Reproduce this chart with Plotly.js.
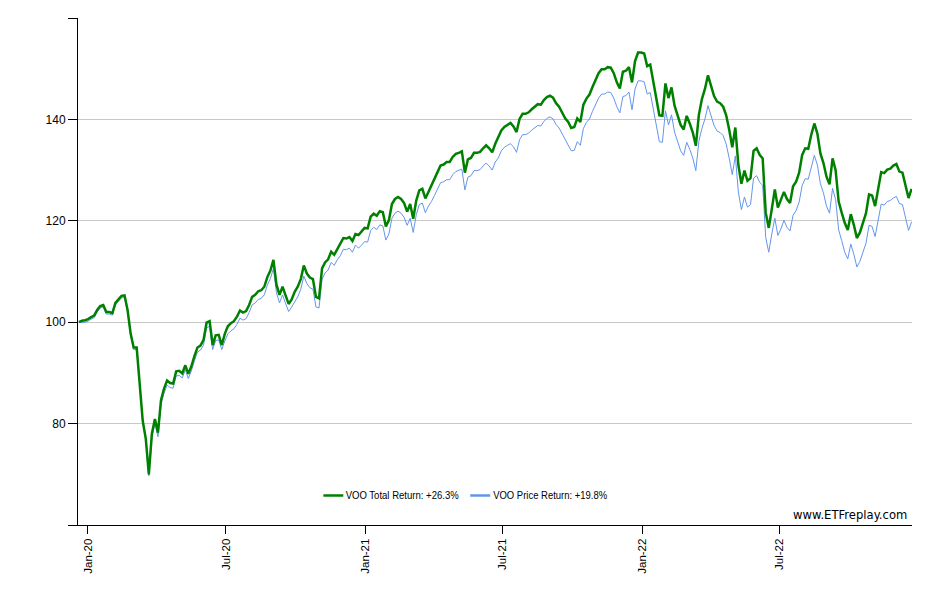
<!DOCTYPE html>
<html>
<head>
<meta charset="utf-8">
<script src="https://cdn.plot.ly/plotly-3.0.1.min.js"></script>
<style>html,body{margin:0;padding:0;background:#fff;}#chart{width:940px;height:600px;}</style>
</head>
<body>
<div id="chart"></div>
<script>
// Series sampled every ~4 calendar days starting 2019-12-20
var startDate = '2019-12-20 08:00';
var totalReturn = [
100.0,100.3,100.4,100.6,101.0,101.3,102.4,103.2,103.4,102.0,
102.0,101.8,103.8,104.4,105.2,105.3,102.4,97.8,95.0,95.0,
87.8,80.5,77.0,70.0,78.0,80.9,78.2,84.6,86.9,88.5,
88.0,87.9,90.3,90.4,89.9,91.5,89.8,91.3,93.3,95.0,
95.4,96.5,99.9,100.2,95.5,97.4,97.5,95.5,97.7,99.2,
99.8,100.2,101.1,102.3,101.9,102.2,103.4,105.0,105.4,106.1,
106.3,107.0,108.9,110.2,112.3,107.4,105.4,107.0,105.3,103.6,
104.5,106.0,107.0,108.5,111.2,109.6,108.8,108.5,105.0,104.7,
110.6,111.8,112.4,113.9,113.3,114.4,115.2,116.6,116.5,116.8,
116.0,117.4,117.2,117.8,118.6,118.5,120.8,121.4,121.0,121.9,
121.7,118.9,120.1,123.3,124.3,124.7,124.3,123.5,121.8,123.3,
120.4,124.0,126.0,126.3,124.4,125.7,127.1,128.4,129.6,130.9,
131.1,131.6,131.6,132.6,133.2,133.4,133.7,129.5,132.1,132.4,
133.4,133.4,133.6,134.3,134.9,134.3,133.5,135.2,136.4,137.8,
138.5,138.9,139.3,138.6,137.5,140.1,141.1,141.1,141.4,142.0,
142.6,143.0,142.9,143.8,144.4,144.7,144.3,143.2,142.5,141.3,
140.2,139.5,138.3,138.5,140.2,139.5,142.9,144.1,144.9,146.4,
147.8,149.1,149.9,149.9,150.3,150.2,149.1,147.3,146.1,149.4,
149.6,150.3,147.3,151.5,153.2,153.2,153.0,150.5,150.8,147.6,
144.2,140.8,140.7,147.1,144.2,146.3,142.7,140.7,138.9,138.0,
140.7,139.2,137.4,134.8,140.9,144.0,146.0,148.7,146.6,144.6,
143.5,143.2,142.5,140.8,137.9,134.5,138.4,131.0,127.3,129.9,
127.9,128.4,133.8,134.3,133.0,132.3,121.6,118.6,122.3,126.2,
122.6,124.0,125.7,124.3,123.5,126.8,127.7,129.5,133.0,134.3,
134.2,137.0,139.2,137.2,133.3,131.4,128.7,127.2,132.3,130.0,
123.8,121.6,119.6,118.2,121.3,119.2,116.6,117.7,119.4,121.5,
125.2,125.0,122.9,126.4,129.6,129.4,130.1,130.3,130.9,131.2,
129.7,129.5,126.9,124.5,126.3
];
var priceReturn = [
100.0,99.9,100.0,100.2,100.6,100.9,102.0,102.8,103.0,101.6,
101.6,101.4,103.4,104.0,104.8,104.9,102.0,97.4,94.6,94.6,
87.5,80.2,76.7,69.7,77.2,80.1,77.4,83.8,86.0,87.6,
87.1,87.0,89.4,89.5,89.0,90.6,88.9,90.4,92.4,94.1,
94.5,95.5,98.9,99.2,94.6,96.4,96.5,94.6,96.3,97.7,
98.3,98.7,99.6,100.8,100.4,100.7,101.9,103.4,103.8,104.5,
104.7,105.4,107.3,108.6,110.6,105.8,103.8,105.4,103.7,102.1,
103.0,104.0,105.0,106.5,109.1,107.6,106.8,106.5,103.0,102.8,
108.5,109.7,110.3,111.8,111.2,112.3,113.1,114.4,114.3,114.6,
113.8,115.2,114.6,115.2,115.9,115.8,118.1,118.7,118.3,119.2,
119.0,116.2,117.4,120.5,121.5,121.9,121.5,120.7,119.1,120.5,
117.7,121.2,123.2,123.5,121.6,122.9,123.8,125.0,126.2,127.5,
127.7,128.1,128.1,129.1,129.7,129.9,130.2,126.1,128.6,128.9,
129.9,129.9,130.1,130.8,131.4,130.8,130.0,131.6,132.4,133.8,
134.5,134.9,135.2,134.6,133.5,136.0,137.0,137.0,137.3,137.9,
138.4,138.8,138.7,139.6,140.2,140.5,140.1,139.0,138.3,137.2,
136.1,134.9,133.8,133.9,135.6,134.9,138.2,139.4,140.1,141.6,
142.9,144.2,145.0,145.0,145.4,145.3,144.2,142.5,141.3,144.5,
144.7,145.4,141.9,146.0,147.6,147.6,147.4,145.0,145.3,142.2,
138.9,135.6,135.5,141.7,138.9,140.9,137.5,135.5,133.8,132.9,
135.5,134.1,132.4,129.9,135.7,138.2,140.1,142.7,140.7,138.8,
137.7,137.4,136.8,135.1,132.3,129.1,132.8,125.7,122.2,124.7,
122.7,123.2,128.4,128.9,127.6,127.0,116.7,113.8,117.4,120.5,
117.1,118.4,120.1,118.7,118.0,121.1,122.0,123.7,127.0,128.3,
128.2,130.8,132.9,131.0,127.3,125.5,122.9,121.5,126.4,124.2,
118.2,116.1,113.8,112.5,115.4,113.4,110.9,112.0,113.6,115.6,
119.1,118.9,116.9,120.3,123.3,123.1,123.8,124.0,124.5,124.8,
123.4,123.2,120.4,118.1,119.8
];
var seriesNames = ['VOO Total Return: +26.3%', 'VOO Price Return: +19.8%'];
var seriesColors = ['#008000', '#6495ED'];
var yTickVals = [60, 80, 100, 120, 140, 160];
var yTickText = ['', '80', '100', '120', '140', ''];
var stepMs = 346200000;

var traces = [
  {type:'scatter', mode:'lines', name: seriesNames[1], x0: startDate, dx: stepMs, y: priceReturn,
   line:{color:seriesColors[1], width:1}, hoverinfo:'skip', showlegend:false},
  {type:'scatter', mode:'lines', name: seriesNames[0], x0: startDate, dx: stepMs, y: totalReturn,
   line:{color:seriesColors[0], width:2.5}, hoverinfo:'skip', showlegend:false}
];

// manual legend (paper coordinates)
var legY = 0.0582;
var legFont = {family:'"Liberation Sans", Arial, sans-serif', size:11, color:'#000'};
var shapes = [
  {type:'line', xref:'paper', yref:'paper', x0:0.2942, x1:0.3181, y0:legY, y1:legY,
   line:{color:seriesColors[0], width:2.5}},
  {type:'line', xref:'paper', yref:'paper', x0:0.4703, x1:0.4943, y0:legY, y1:legY,
   line:{color:seriesColors[1], width:2.5}}
];
var annotations = [
  {text: seriesNames[0], xref:'paper', yref:'paper', x:(402.5-77.5)/834.5, y:legY,
   xanchor:'center', yanchor:'middle', showarrow:false, font:legFont},
  {text: seriesNames[1], xref:'paper', yref:'paper', x:(550-77.5)/834.5, y:legY,
   xanchor:'center', yanchor:'middle', showarrow:false, font:legFont},
  {text:'www.ETFreplay.com', xref:'paper', yref:'paper', x:(908.5-77.5)/834.5, y:0.02,
   xanchor:'right', yanchor:'middle', showarrow:false,
   font:{family:'"DejaVu Sans", Verdana, sans-serif', size:11.6, color:'#000'}}
];

var layout = {
  width:940, height:600,
  margin:{l:77.5, r:28, t:18, b:75},
  paper_bgcolor:'#fff', plot_bgcolor:'#fff',
  font:{family:'"Liberation Sans", Arial, sans-serif', size:12, color:'#000'},
  showlegend:false,
  xaxis:{type:'date', range:['2019-12-19 02:00','2022-12-22 19:00'],
         tick0:'2020-01-01', dtick:'M6', tickformat:'%b-%y', tickangle:-90,
         ticks:'outside', ticklen:8, tickcolor:'#000', tickwidth:1,
         showline:true, linecolor:'#000', linewidth:1, showgrid:false, zeroline:false,
         tickfont:{family:'"Liberation Sans", Arial, sans-serif', size:11.5, color:'#000'}},
  yaxis:{range:[60,160], tickmode:'array', tickvals:yTickVals, ticktext:yTickText,
         ticks:'outside', ticklen:9, tickcolor:'#000', tickwidth:1,
         showline:true, linecolor:'#000', linewidth:1,
         showgrid:true, gridcolor:'#c8c8c8', gridwidth:1, zeroline:false,
         tickfont:{family:'"Liberation Sans", Arial, sans-serif', size:12, color:'#000'}},
  shapes: shapes,
  annotations: annotations
};

Plotly.newPlot('chart', traces, layout, {displayModeBar:false, staticPlot:true}).then(function(gd){
  // condense legend labels like the reference (narrow rendering)
  var texts = gd.querySelectorAll('text.annotation-text');
  texts.forEach(function(t){
    var s = t.textContent;
    if (s === seriesNames[0]) { t.setAttribute('textLength', '113'); t.setAttribute('lengthAdjust', 'spacingAndGlyphs'); }
    if (s === seriesNames[1]) { t.setAttribute('textLength', '114'); t.setAttribute('lengthAdjust', 'spacingAndGlyphs'); }
  });
});
</script>
</body>
</html>
